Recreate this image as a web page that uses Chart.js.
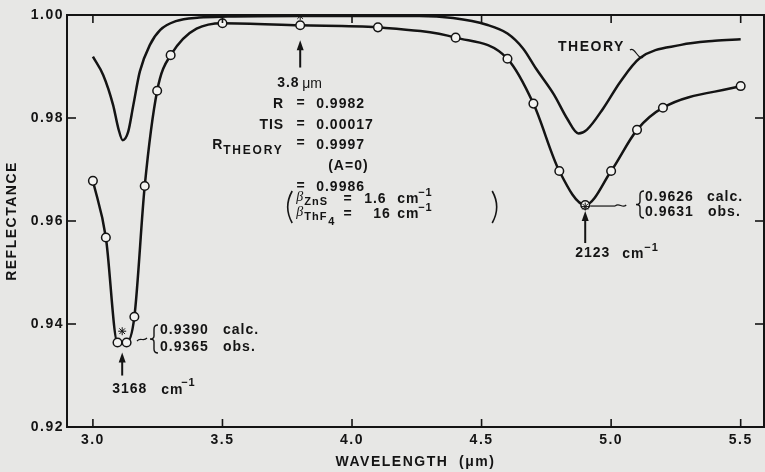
<!DOCTYPE html>
<html>
<head>
<meta charset="utf-8">
<script src="https://cdn.jsdelivr.net/npm/chart.js@4.4.1/dist/chart.umd.min.js"></script>
<style>
    html, body { margin: 0; padding: 0; background: #e7e7e5; }
    #wrap { width: 765px; height: 472px; }
</style>
</head>
<body>
<div id="wrap"><canvas id="chart" width="765" height="472"></canvas></div>
<script>
// Theory curve (wavelength in um, reflectance)
const theoryWl = [3.00, 3.04, 3.078, 3.098, 3.115, 3.136, 3.156, 3.181, 3.22, 3.26, 3.32, 3.41, 3.52, 3.80,
    4.26, 4.39, 4.52, 4.60, 4.66, 4.71, 4.78, 4.83, 4.874, 4.906, 4.97, 5.035, 5.11, 5.27, 5.40, 5.50];
const theoryR = [0.9919, 0.9883, 0.9825, 0.9780, 0.9757, 0.9773, 0.9825, 0.9890, 0.9942, 0.9971, 0.9988, 0.9995, 0.9997, 0.9998,
    0.9998, 0.9994, 0.9981, 0.9964, 0.9935, 0.9896, 0.9845, 0.9799, 0.9770, 0.9777, 0.9819, 0.9870, 0.9916, 0.9942, 0.9950, 0.9953];

// Measured points (circles)
const measWl = [3.00, 3.05, 3.095, 3.13, 3.16, 3.20, 3.248, 3.30, 3.50, 3.80, 4.10, 4.40, 4.60, 4.70, 4.80, 4.90, 5.00, 5.10, 5.20, 5.50];
const measR = [0.9678, 0.9568, 0.9364, 0.9364, 0.9414, 0.9668, 0.9853, 0.9922, 0.9984, 0.9980, 0.9976, 0.9956, 0.9915, 0.9828,
    0.9697, 0.9631, 0.9697, 0.9777, 0.9820, 0.9862];

// Calculated values (asterisks)
const calcWl = [3.113, 3.80, 4.90];
const calcR = [0.9386, 0.9998, 0.9628];

const xTicks = [3.0, 3.5, 4.0, 4.5, 5.0, 5.5];
const yTicks = [0.92, 0.94, 0.96, 0.98, 1.00];

const INK = "#141414";
const BG = "#e7e7e5";
const FAM = '"Liberation Sans", Arial, sans-serif';
const F = "bold 14px " + FAM;
const FS = "bold 11px " + FAM;
const FT = "bold 12px " + FAM;
const FN = "14px " + FAM;
const FB = 'italic 14px "Liberation Serif", serif';

const toPoints = (xs, ys) => xs.map((v, i) => ({ x: v, y: ys[i] }));

function txt(ctx, s, x, y, font, align = "left", spacing = "1px") {
    ctx.font = font;
    ctx.letterSpacing = spacing;
    ctx.textAlign = align;
    ctx.textBaseline = "middle";
    ctx.fillText(s, x, y);
}

function seg(ctx, x1, y1, x2, y2) {
    ctx.beginPath();
    ctx.moveTo(x1, y1);
    ctx.lineTo(x2, y2);
    ctx.stroke();
}

function arrowUp(ctx, x, yTip, yTail) {
    ctx.lineWidth = 2;
    seg(ctx, x, yTail, x, yTip + 6);
    ctx.beginPath();
    ctx.moveTo(x, yTip);
    ctx.lineTo(x - 3.5, yTip + 10);
    ctx.lineTo(x + 3.5, yTip + 10);
    ctx.closePath();
    ctx.fill();
}

function brace(ctx, x, yTop, yBot) {
    const ym = (yTop + yBot) / 2, w = 4;
    ctx.lineWidth = 1.4;
    ctx.beginPath();
    ctx.moveTo(x + w, yTop);
    ctx.quadraticCurveTo(x, yTop, x, yTop + 4);
    ctx.lineTo(x, ym - 3);
    ctx.quadraticCurveTo(x, ym, x - w, ym);
    ctx.quadraticCurveTo(x, ym, x, ym + 3);
    ctx.lineTo(x, yBot - 4);
    ctx.quadraticCurveTo(x, yBot, x + w, yBot);
    ctx.stroke();
}

function paren(ctx, x, yTop, yBot, dir) {
    ctx.lineWidth = 1.6;
    ctx.beginPath();
    ctx.moveTo(x, yTop);
    ctx.quadraticCurveTo(x + dir * 9, (yTop + yBot) / 2, x, yBot);
    ctx.stroke();
}

function tilde(ctx, x1, y1, x2, y2) {
    ctx.lineWidth = 1.2;
    ctx.beginPath();
    ctx.moveTo(x1, y1);
    ctx.bezierCurveTo(x1 + (x2 - x1) * 0.35, y1 - 4, x1 + (x2 - x1) * 0.65, y2 + 4, x2, y2);
    ctx.stroke();
}

const frameAndNotes = {
    id: "frameAndNotes",
    beforeLayout(chart) {
        chart.ctx.letterSpacing = "1.5px";
    },
    beforeDraw(chart) {
        const { ctx, width, height } = chart;
        ctx.save();
        ctx.fillStyle = BG;
        ctx.fillRect(0, 0, width, height);
        ctx.restore();
        ctx.letterSpacing = "1.5px";
    },
    afterDraw(chart) {
        const { ctx, chartArea: a, scales: { x, y } } = chart;
        ctx.save();
        ctx.strokeStyle = INK;
        ctx.fillStyle = INK;

        // top and right frame
        ctx.lineWidth = 2;
        ctx.beginPath();
        ctx.moveTo(a.left, a.top);
        ctx.lineTo(a.right, a.top);
        ctx.lineTo(a.right, a.bottom);
        ctx.stroke();

        // inward tick marks on all four sides
        ctx.lineWidth = 1.6;
        xTicks.forEach(v => {
            const px = x.getPixelForValue(v);
            seg(ctx, px, a.bottom, px, a.bottom - 8);
            seg(ctx, px, a.top, px, a.top + 8);
        });
        yTicks.forEach(v => {
            const py = y.getPixelForValue(v);
            seg(ctx, a.left, py, a.left + 9, py);
            seg(ctx, a.right, py, a.right - 9, py);
        });

        // 3.8 um block
        const cx = x.getPixelForValue(3.8);
        arrowUp(ctx, cx, y.getPixelForValue(0.9951), y.getPixelForValue(0.9898));
        txt(ctx, "3.8", cx - 23, 83, F);
        txt(ctx, "\u03bcm", cx + 2, 84, FN, "left", "0px");
        const eqX = cx + 1, lX = cx - 16, rX = cx + 16;
        txt(ctx, "R", lX, 104, F, "right");
        txt(ctx, "=", eqX, 103, F, "center");
        txt(ctx, "0.9982", rX, 104, F);
        txt(ctx, "TIS", lX, 125, F, "right");
        txt(ctx, "=", eqX, 124, F, "center");
        txt(ctx, "0.00017", rX, 125, F);
        txt(ctx, "R", cx - 88, 145, F);
        txt(ctx, "THEORY", cx - 77, 151, FT, "left", "1.8px");
        txt(ctx, "=", eqX, 143, F, "center");
        txt(ctx, "0.9997", rX, 145, F);
        txt(ctx, "(A=0)", cx + 28, 166, F);
        txt(ctx, "=", eqX, 186, F, "center");
        txt(ctx, "0.9986", rX, 187, F);

        const r1 = 199, r2 = 214;
        paren(ctx, cx - 8, r1 - 8, r2 + 9, -1);
        txt(ctx, "\u03b2", cx - 4, r1 - 2, FB, "left", "0px");
        txt(ctx, "ZnS", cx + 4, r1 + 3, FS);
        txt(ctx, "=", cx + 48, r1, F, "center");
        txt(ctx, "1.6", cx + 64, r1, F);
        txt(ctx, "cm", cx + 97, r1, F);
        txt(ctx, "\u22121", cx + 118, r1 - 6, FS);
        txt(ctx, "\u03b2", cx - 4, r2 - 2, FB, "left", "0px");
        txt(ctx, "ThF", cx + 4, r2 + 3, FS);
        txt(ctx, "4", cx + 28, r2 + 8, FS);
        txt(ctx, "=", cx + 48, r2, F, "center");
        txt(ctx, "16", cx + 73, r2, F);
        txt(ctx, "cm", cx + 97, r2, F);
        txt(ctx, "\u22121", cx + 118, r2 - 6, FS);
        paren(ctx, cx + 192, r1 - 8, r2 + 9, 1);

        // THEORY label
        txt(ctx, "THEORY", 558, 47, F, "left", "1.5px");
        tilde(ctx, 630, 50, 643, 57);

        // 2123 cm-1 block
        const mx = x.getPixelForValue(4.90), my = y.getPixelForValue(0.9631);
        ctx.lineWidth = 1.2;
        seg(ctx, mx + 5, my + 1, mx + 30, my + 1);
        tilde(ctx, mx + 30, my + 1, mx + 41, my);
        brace(ctx, 640, 191, 218);
        txt(ctx, "0.9626", 645, 197, F);
        txt(ctx, "calc.", 707, 197, F);
        txt(ctx, "0.9631", 645, 212, F);
        txt(ctx, "obs.", 708, 212, F);
        arrowUp(ctx, mx, my + 6, my + 38);
        txt(ctx, "2123", mx - 10, 253, F);
        txt(ctx, "cm", mx + 37, 254, F);
        txt(ctx, "\u22121", mx + 59, 248, FS);

        // 3168 cm-1 block
        const lx = x.getPixelForValue(3.113), ly = y.getPixelForValue(0.9364);
        tilde(ctx, 137, 341, 147, 338);
        brace(ctx, 154, 325, 353);
        txt(ctx, "0.9390", 160, 330, F);
        txt(ctx, "calc.", 223, 330, F);
        txt(ctx, "0.9365", 160, 347, F);
        txt(ctx, "obs.", 223, 347, F);
        arrowUp(ctx, lx, ly + 10, ly + 33);
        txt(ctx, "3168", lx - 10, 389, F);
        txt(ctx, "cm", lx + 39, 390, F);
        txt(ctx, "\u22121", lx + 59, 383, FS);

        ctx.restore();
    }
};

new Chart(document.getElementById("chart"), {
    type: "line",
    data: {
        datasets: [
            {
                label: "calc",
                data: toPoints(calcWl, calcR),
                showLine: false,
                pointStyle: "star",
                pointRadius: 4,
                borderColor: INK,
                pointBorderWidth: 1,
                backgroundColor: INK
            },
            {
                label: "obs",
                data: toPoints(measWl, measR),
                borderColor: INK,
                borderWidth: 2.5,
                cubicInterpolationMode: "monotone",
                pointRadius: 4.3,
                pointBorderWidth: 1.5,
                pointBorderColor: INK,
                pointBackgroundColor: "#f3f3f1"
            },
            {
                label: "THEORY",
                data: toPoints(theoryWl, theoryR),
                borderColor: INK,
                borderWidth: 2.5,
                cubicInterpolationMode: "monotone",
                pointRadius: 0
            }
        ]
    },
    options: {
        responsive: false,
        animation: false,
        devicePixelRatio: 1,
        layout: { autoPadding: false, padding: { top: 15, right: 1, left: 0, bottom: 0 } },
        plugins: { legend: { display: false }, tooltip: { enabled: false } },
        scales: {
            x: {
                type: "linear",
                min: 2.9,
                max: 5.59,
                afterBuildTicks: s => { s.ticks = xTicks.map(v => ({ value: v })); },
                afterFit: s => { s.height = 45; s.paddingLeft = 0; s.paddingRight = 0; },
                grid: { display: false, drawTicks: false },
                border: { color: INK, width: 2 },
                ticks: {
                    color: INK,
                    padding: 5,
                    font: { family: FAM, size: 14, weight: "bold" },
                    callback: v => v.toFixed(1)
                },
                title: {
                    display: true,
                    text: "WAVELENGTH  (\u03bcm)",
                    color: INK,
                    padding: { top: 0, bottom: 1 },
                    font: { family: FAM, size: 14, weight: "bold" }
                }
            },
            y: {
                min: 0.92,
                max: 1.00,
                afterBuildTicks: s => { s.ticks = yTicks.map(v => ({ value: v })); },
                afterFit: s => { s.width = 67; s.paddingTop = 0; s.paddingBottom = 0; },
                grid: { display: false, drawTicks: false },
                border: { color: INK, width: 2 },
                ticks: {
                    color: INK,
                    padding: 3,
                    font: { family: FAM, size: 14, weight: "bold" },
                    callback: v => v.toFixed(2)
                },
                title: {
                    display: true,
                    text: "REFLECTANCE",
                    color: INK,
                    padding: { top: 4, bottom: 0 },
                    font: { family: FAM, size: 14, weight: "bold" }
                }
            }
        }
    },
    plugins: [frameAndNotes]
});
</script>
</body>
</html>
